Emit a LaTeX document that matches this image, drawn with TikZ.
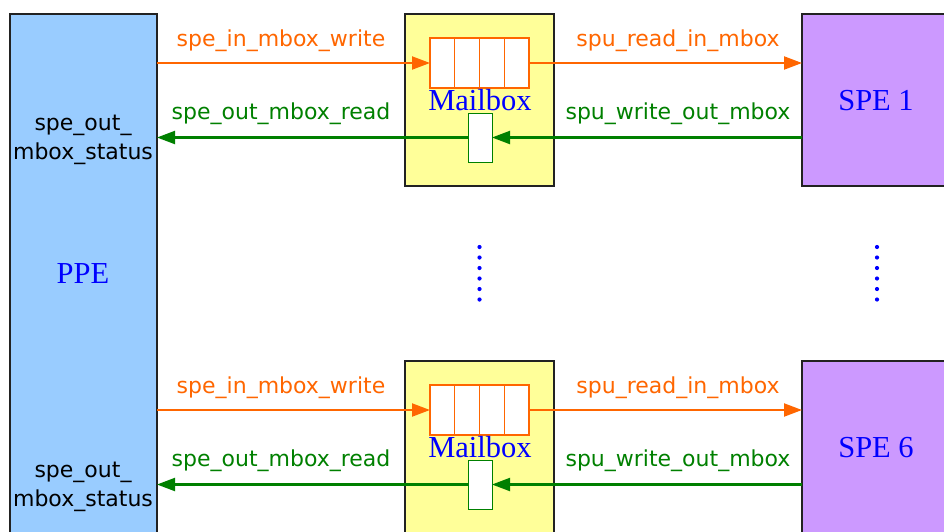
\documentclass[tikz,border=0pt]{standalone}
\usepackage{fontspec}
\setmainfont{Liberation Serif}
\newfontfamily\sigfont{DejaVu Sans}
\usetikzlibrary{arrows.meta}
\definecolor{ppeblue}{HTML}{99CCFF}
\definecolor{spepurple}{HTML}{CC99FF}
\definecolor{mboxyellow}{HTML}{FFFF99}
\definecolor{inorange}{HTML}{FF6600}
\definecolor{outgreen}{HTML}{008000}
\definecolor{edgegray}{HTML}{222222}
\definecolor{namblue}{HTML}{0000FF}
\tikzset{
  unitbox/.style={draw=edgegray, line width=1.1pt, inner sep=0pt, outer sep=0pt, anchor=north west},
  slotcell/.style={draw=inorange, fill=white, line width=1.2pt, inner sep=0pt, outer sep=0pt,
                   minimum width=24.75pt, minimum height=50pt, anchor=north west},
  outslot/.style={draw=outgreen, fill=white, line width=1pt, inner sep=0pt, outer sep=0pt,
                  minimum width=24pt, minimum height=49pt, anchor=north west},
  inarrow/.style={draw=inorange, line width=2.1pt, -{Triangle[length=18pt,width=13pt]}},
  outarrow/.style={draw=outgreen, line width=2.1pt, -{Triangle[length=18pt,width=13pt]}},
  inlabel/.style={font=\sigfont\fontsize{22}{26}\selectfont, text=inorange, anchor=base, inner sep=0pt},
  outlabel/.style={font=\sigfont\fontsize{22}{26}\selectfont, text=outgreen, anchor=base, inner sep=0pt},
  statuslabel/.style={font=\sigfont\fontsize{22}{26}\selectfont, text=black, anchor=base, inner sep=0pt},
  unitname/.style={font=\fontsize{30.5}{34}\selectfont, text=namblue, anchor=base, inner sep=0pt},
  vdot/.style={fill=namblue}
}
\begin{document}
\begin{tikzpicture}[x=1pt,y=-1pt]
  \useasboundingbox (0,0) rectangle (944,531);
  \clip (0,0) rectangle (944,531);

  % PPE column on the left
  \node[unitbox, fill=ppeblue, minimum width=147pt, minimum height=540pt] (ppe) at (10,14) {};
  \node[unitname] (ppename) at (83,283) {PPE};

  % one mailbox / SPE pair per row
  \foreach \k/\dy/\spe in {1/0/1, 2/347/6} {
    \node[unitbox, fill=mboxyellow, minimum width=149pt, minimum height=172pt] (mbox\k) at (405,14+\dy) {};
    \node[unitbox, fill=spepurple, minimum width=160pt, minimum height=172pt] (spe\k) at (802,14+\dy) {};

    % four-slot inbound queue
    \foreach \c in {0,1,2,3}
      \node[slotcell] (q\k c\c) at (430+24.75*\c,38+\dy) {};
    % single-slot outbound mailbox
    \node[outslot] (oq\k) at (468,113+\dy) {};

    \node[unitname] (mname\k) at (480,110+\dy) {Mailbox};
    \node[unitname] (spename\k) at (876,110+\dy) {SPE \spe};

    \node[statuslabel] (statA\k) at (83,130+\dy) {spe\_out\_};
    \node[statuslabel] (statB\k) at (83,159+\dy) {mbox\_status};

    % inbound path (orange)
    \draw[inarrow] (q\k c0.west -| ppe.east) -- (q\k c0.west);
    \draw[inarrow] (q\k c3.east) -- (q\k c3.east -| spe\k.west);
    \node[inlabel] (inw\k) at (281,46+\dy) {spe\_in\_mbox\_write};
    \node[inlabel] (inr\k) at (678,46+\dy) {spu\_read\_in\_mbox};

    % outbound path (green)
    \draw[outarrow] (oq\k.east -| spe\k.west) -- (oq\k.east);
    \draw[outarrow] (oq\k.west) -- (oq\k.west -| ppe.east);
    \node[outlabel] (outr\k) at (281,119+\dy) {spe\_out\_mbox\_read};
    \node[outlabel] (outw\k) at (678,119+\dy) {spu\_write\_out\_mbox};
  }

  % vertical ellipses between the rows
  \foreach \yy in {247,257.5,268,278.5,289,299.5} {
    \fill[vdot] (479.5,\yy) circle (2.1pt);
    \fill[vdot] (877,\yy) circle (2.1pt);
  }
\end{tikzpicture}
\end{document}
